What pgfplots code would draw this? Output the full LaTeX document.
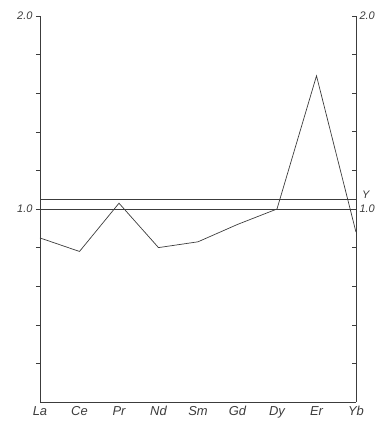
\documentclass[border=0pt]{standalone}
\usepackage{pgfplots}
\pgfplotsset{compat=1.18}
\usepackage{fontspec}
\setmainfont{Liberation Sans}
\definecolor{ink}{RGB}{60,60,60}
\begin{document}
\begin{tikzpicture}
\path[use as bounding box] (-40bp,-22bp) rectangle (345bp,402bp);
\begin{axis}[
  at={(0,0)}, anchor=south west,
  scale only axis, width=316bp, height=386bp,
  xmin=0, xmax=8, ymin=0, ymax=2,
  axis x line*=bottom, axis y line*=left,
  axis line style={-, ink, line width=0.7pt},
  xtick={0,1,2,3,4,5,6,7,8},
  xticklabels={La,Ce,Pr,Nd,Sm,Gd,Dy,Er,Yb},
  xtick style={draw=none},
  x tick label style={font=\itshape\fontsize{13}{14}\selectfont, text=ink, yshift=3pt},
  ytick={0.2,0.4,0.6,0.8,1.0,1.2,1.4,1.6,1.8,2.0},
  yticklabels={,,,,1.0,,,,,2.0},
  tick align=outside, major tick length=4bp,
  ytick style={ink, line width=0.6pt},
  y tick label style={font=\itshape\fontsize{11}{12}\selectfont, text=ink},
  /pgf/number format/assume math mode=true,
  clip=false,
]
\addplot[ink, line width=0.7pt] coordinates {(0,1.0) (8,1.0)};
\addplot[ink, line width=0.7pt] coordinates {(0,1.05) (8,1.05)};
\addplot[ink, line width=0.7pt] coordinates {
  (0,0.85) (1,0.78) (2,1.03) (3,0.80) (4,0.83) (5,0.92) (6,1.00) (7,1.69) (8,0.88)};
\end{axis}
\begin{axis}[
  at={(0,0)}, anchor=south west,
  scale only axis, width=316bp, height=386bp,
  xmin=0, xmax=8, ymin=0, ymax=2,
  axis x line=none, axis y line*=right,
  axis line style={-, ink, line width=0.7pt},
  ytick={0.2,0.4,0.6,0.8,1.0,1.2,1.4,1.6,1.8,2.0},
  yticklabels={,,,,1.0,,,,,2.0},
  tick align=inside, major tick length=4bp,
  ytick style={ink, line width=0.6pt},
  y tick label style={font=\itshape\fontsize{11}{12}\selectfont, text=ink},
  /pgf/number format/assume math mode=true,
  clip=false,
]
\node[anchor=south west, font=\itshape\fontsize{11}{12}\selectfont, text=ink, inner sep=0pt] at (axis cs:8,1.055) {\hspace{6bp}Y};
\end{axis}
\end{tikzpicture}
\end{document}
